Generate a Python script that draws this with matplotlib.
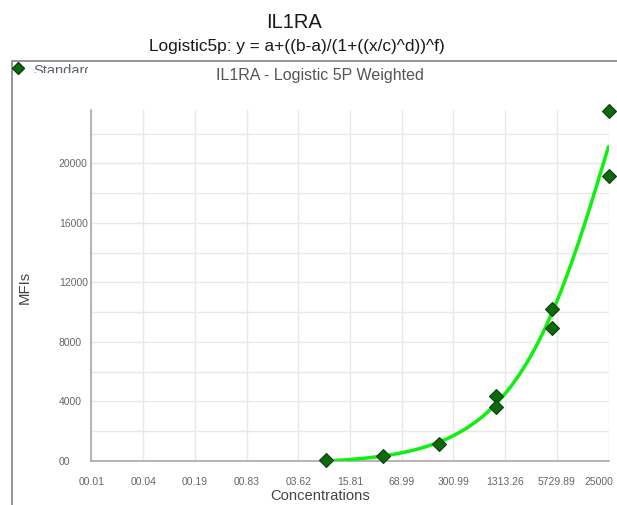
"""
IL1RA standard curve: measured MFIs against concentration with the
weighted 5-parameter logistic fit drawn on a log concentration axis.
"""

import numpy as np
import matplotlib
matplotlib.use("Agg")
import matplotlib.pyplot as plt
from matplotlib.patches import Rectangle
from matplotlib.transforms import ScaledTranslation
from matplotlib.ticker import FixedLocator, MultipleLocator, NullFormatter

plt.rcParams["font.family"] = ["Liberation Sans", "DejaVu Sans"]

# ---------------------------------------------------------------------
# Data
# ---------------------------------------------------------------------

STD_CONC = [8, 40, 200, 1000, 1000, 5000, 5000, 25000, 25000]
STD_MFI = [40, 330, 1100, 4350, 3630, 10180, 8940, 23520, 19170]

# Fitted Logistic5p parameters: y = a+((b-a)/(1+((x/c)^d))^f)
FIT_A = 32836.0
FIT_B = -200.5
FIT_C = 3139462.8
FIT_D = 0.6542
FIT_F = 25.021

X_TICKS = [0.01, 0.0436, 0.19, 0.83, 3.62, 15.81, 68.99, 300.99, 1313.26, 5729.89, 25000]
X_LABELS = ["00.01", "00.04", "00.19", "00.83", "03.62", "15.81", "68.99",
            "300.99", "1313.26", "5729.89", "25000"]
Y_TICKS = [0, 4000, 8000, 12000, 16000, 20000]
Y_LABELS = ["00", "4000", "8000", "12000", "16000", "20000"]

LINE_GREEN = "#0ff00f"
POINT_GREEN = "#0b6a0b"
POINT_EDGE = "#0d3d0d"
GRID = "#e8e8e8"
AXIS = "#a8a8a8"
TICK_TEXT = "#666666"


def logistic5p(x):
    return FIT_A + (FIT_B - FIT_A) / (1 + (x / FIT_C) ** FIT_D) ** FIT_F


def main():
    fig = plt.figure(figsize=(6.17, 5.05), dpi=100)
    W, H = 617, 505

    # outer panel frame
    frame = Rectangle((11.7 / W, -0.02), 1.1, 1 - 60.5 / H + 0.02,
                      transform=fig.transFigure, fill=False,
                      edgecolor="#8c8c8c", linewidth=1.3)
    fig.add_artist(frame)

    fig.text(294 / W, 1 - 22.5 / H, "IL1RA", ha="center", va="center",
             fontsize=14.5, color="#1a1a1a")
    fig.text(297 / W, 1 - 46 / H, "Logistic5p: y = a+((b-a)/(1+((x/c)^d))^f)",
             ha="center", va="center", fontsize=12.4, color="#1a1a1a")
    fig.text(319.5 / W, 1 - 75.5 / H, "IL1RA - Logistic 5P Weighted",
             ha="center", va="center", fontsize=11.5, color="#555555")

    # legend entry, cut off by the panel header
    fig.lines.append(plt.Line2D([18 / W], [1 - 68 / H], marker="D",
                                markersize=6.5, color=POINT_GREEN,
                                markeredgecolor=POINT_EDGE,
                                transform=fig.transFigure))
    legend_text = fig.text(33 / W, 1 - 64 / H, "Standards", ha="left",
                           va="top", fontsize=10.5, color="#5a6270")
    clip = Rectangle((30 / W, 1 - 72.5 / H), 58 / W, 12 / H,
                     transform=fig.transFigure)
    legend_text.set_clip_path(clip)

    ax = fig.add_axes([91.5 / W, 1 - 460.7 / H, 517 / W, 350.7 / H])
    ax.set_xscale("log")
    ax.set_xlim(0.01, 25000)
    ax.set_ylim(0, 23600)

    ax.xaxis.set_major_locator(FixedLocator(X_TICKS))
    ax.xaxis.set_minor_locator(FixedLocator([]))
    ax.set_xticklabels(X_LABELS)
    ax.set_yticks(Y_TICKS)
    ax.set_yticklabels(Y_LABELS)
    ax.yaxis.set_minor_locator(MultipleLocator(2000))
    ax.yaxis.set_minor_formatter(NullFormatter())

    ax.grid(True, which="both", color=GRID, linewidth=1.0)
    ax.set_axisbelow(True)
    ax.tick_params(axis="both", which="both", length=0, labelsize=7.5,
                   labelcolor=TICK_TEXT)
    ax.tick_params(axis="x", pad=11.5)
    ax.tick_params(axis="y", pad=23.5)
    for label in ax.get_yticklabels():
        label.set_horizontalalignment("left")

    # keep the last concentration label inside the figure edge
    last = ax.get_xticklabels()[-1]
    last.set_transform(last.get_transform()
                       + ScaledTranslation(-7 / 72, 0, fig.dpi_scale_trans))

    for side in ("top", "right"):
        ax.spines[side].set_visible(False)
    for side in ("left", "bottom"):
        ax.spines[side].set_color(AXIS)
        ax.spines[side].set_linewidth(1.2)

    xs = np.logspace(np.log10(min(STD_CONC)), np.log10(max(STD_CONC)), 300)
    ax.plot(xs, logistic5p(xs), color=LINE_GREEN, linewidth=2.5,
            solid_capstyle="round", zorder=3)
    ax.plot(STD_CONC, STD_MFI, linestyle="none", marker="D", markersize=7,
            color=POINT_GREEN, markeredgecolor=POINT_EDGE,
            markeredgewidth=0.8, clip_on=False, zorder=4)

    fig.text(25 / W, 1 - 287 / H, "MFIs", rotation=90, ha="center",
             va="center", fontsize=10.7, color="#444444")
    fig.text(320 / W, 1 - 496 / H, "Concentrations", ha="center",
             va="center", fontsize=10.6, color="#444444")

    fig.savefig("out.png", dpi=100)


if __name__ == "__main__":
    main()
